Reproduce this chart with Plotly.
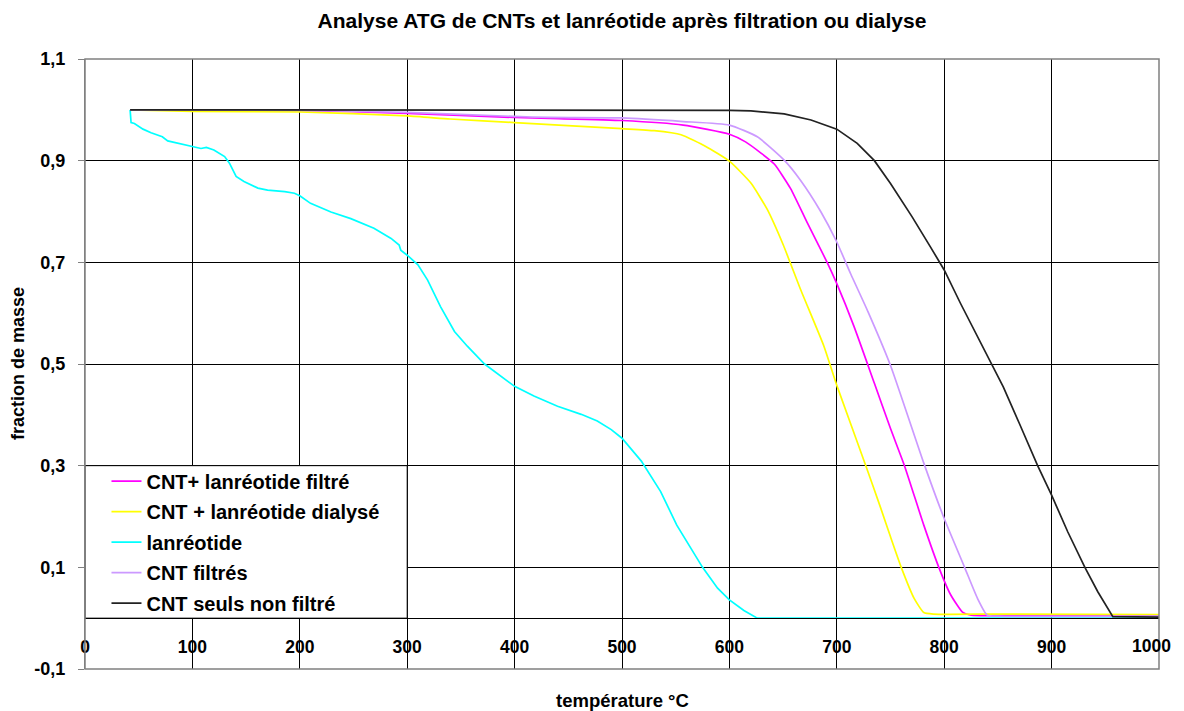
import plotly.graph_objects as go

# ---- data ----
names = ["CNT+ lanréotide filtré", "CNT + lanréotide dialysé", "lanréotide",
         "CNT filtrés", "CNT seuls non filtré"]
colors = ["#FF00FF", "#FFFF00", "#00FFFF", "#CC99FF", "#222222"]

magenta_x = [42, 100, 200, 300, 400, 433, 500, 557, 600, 615, 630, 642, 657, 672, 691, 700, 716,
             735, 750, 763, 781, 795, 806, 817, 825, 850, 1000]
magenta_y = [1.000, 1.000, 0.999, 0.993, 0.985, 0.983, 0.979, 0.970, 0.952, 0.937, 0.914, 0.893,
             0.845, 0.780, 0.700, 0.658, 0.574, 0.462, 0.373, 0.300, 0.183, 0.100, 0.046, 0.012,
             0.006, 0.005, 0.005]

yellow_x = [42, 100, 200, 300, 340, 400, 500, 530, 555, 578, 600, 620, 635, 650, 666, 688, 700,
            727, 741, 750, 760, 772, 781, 790, 850, 1000]
yellow_y = [1.000, 0.997, 0.996, 0.988, 0.982, 0.975, 0.963, 0.959, 0.951, 0.928, 0.899, 0.856,
            0.805, 0.735, 0.648, 0.535, 0.458, 0.300, 0.216, 0.160, 0.100, 0.039, 0.011, 0.008,
            0.008, 0.007]

cyan_x = [42, 42.9, 46, 54, 61.5, 72, 77, 89, 100, 108, 113, 120, 130, 134.5, 140.7, 148, 161,
          170, 186, 195, 200, 210, 229, 247.5, 269, 285, 292.5, 294, 300, 310, 319, 331, 344,
          356, 372, 387, 400, 418, 440, 462, 477, 490, 500, 518, 536, 551, 564, 575, 589, 600,
          613.5, 626, 1000]
cyan_y = [1.000, 0.975, 0.973, 0.962, 0.955, 0.947, 0.939, 0.933, 0.928, 0.924, 0.926, 0.921,
          0.908, 0.895, 0.869, 0.859, 0.846, 0.842, 0.839, 0.836, 0.831, 0.816, 0.799, 0.786,
          0.767, 0.747, 0.734, 0.724, 0.714, 0.695, 0.665, 0.613, 0.564, 0.535, 0.500, 0.476,
          0.456, 0.437, 0.417, 0.401, 0.388, 0.371, 0.354, 0.309, 0.249, 0.183, 0.137, 0.100,
          0.059, 0.036, 0.015, 0.000, 0.000]

lavender_x = [42, 100, 200, 300, 400, 433, 500, 557, 600, 626, 651, 666, 685, 700, 713, 729,
              750, 781, 800, 819, 831, 840, 850, 1000]
lavender_y = [1.000, 1.000, 0.999, 0.995, 0.987, 0.985, 0.984, 0.977, 0.970, 0.947, 0.901, 0.862,
              0.800, 0.740, 0.677, 0.603, 0.497, 0.305, 0.196, 0.100, 0.039, 0.006, 0.004, 0.004]

black_x = [42, 100, 200, 300, 400, 500, 560, 580, 600, 620, 651, 676, 700, 719, 735, 750, 770,
           787, 800, 815, 831, 844, 855, 870, 887, 900, 915, 931, 943, 957, 1000]
black_y = [1.000, 1.000, 1.000, 1.000, 1.000, 1.000, 1.000, 1.000, 0.999, 0.998, 0.992, 0.980,
           0.962, 0.934, 0.900, 0.855, 0.790, 0.731, 0.685, 0.620, 0.555, 0.502, 0.455, 0.383,
           0.300, 0.242, 0.170, 0.100, 0.052, 0.003, 0.002]

xs = [magenta_x, yellow_x, cyan_x, lavender_x, black_x]
ys = [magenta_y, yellow_y, cyan_y, lavender_y, black_y]
shapes = ["spline", "spline", "linear", "spline", "linear"]

y_tickvals = [-0.1, 0.1, 0.3, 0.5, 0.7, 0.9, 1.1]
y_ticktext = ["-0,1", "0,1", "0,3", "0,5", "0,7", "0,9", "1,1"]
x_tickvals = [0, 100, 200, 300, 400, 500, 600, 700, 800, 900, 1000]
x_ticktext = ["0", "100", "200", "300", "400", "500", "600", "700", "800", "900", ""]
x_last_label = "1000"   # drawn separately so that it stays inside the page

title = "Analyse ATG de CNTs et lanréotide après filtration ou dialyse"
xtitle = "température °C"
ytitle = "fraction de masse"

FONT = "Liberation Sans, Arial, sans-serif"

W, H = 1168, 703          # page body has an 8px margin
ML, MR, MT, MB = 77, 17, 51, 42
PH = H - MT - MB

fig = go.Figure()
for i, (x, y) in enumerate(zip(xs, ys)):
    fig.add_trace(go.Scatter(x=x, y=y, mode="lines", name=names[i],
                             line=dict(color=colors[i], width=1.7, shape=shapes[i],
                                       smoothing=0.5),
                             legendgroup=str(i)))

fig.update_layout(
    width=W, height=H,
    margin=dict(l=ML, r=MR, t=MT, b=MB),
    paper_bgcolor="white", plot_bgcolor="white",
    font=dict(family=FONT, size=18, color="black", weight="bold"),
    title=dict(text=title, x=0.5, xref="paper", y=1 - 13 / H, yanchor="middle",
               xanchor="center", font=dict(family=FONT, size=21, weight="bold")),
    showlegend=True,
    legend=dict(x=0.02, y=(0.3 + 0.1) / 1.2 + 4 / PH, xanchor="left", yanchor="top",
                bgcolor="rgba(0,0,0,0)", borderwidth=0, tracegroupgap=1.5,
                font=dict(family=FONT, size=20, weight="bold")),
    xaxis=dict(range=[0, 1000], tickvals=x_tickvals, ticktext=x_ticktext, showgrid=True,
               gridcolor="#000000", gridwidth=1, zeroline=False, anchor="free",
               position=0.1 / 1.2, showline=True, linecolor="#000000", linewidth=1,
               ticks="", ticklabelstandoff=13,
               tickfont=dict(family=FONT, size=17.5, weight="bold")),
    yaxis=dict(range=[-0.1, 1.1], tickvals=y_tickvals, ticktext=y_ticktext, showgrid=True,
               gridcolor="#000000", gridwidth=1, zeroline=False, showline=True,
               linecolor="#808080", ticks="outside", ticklen=6, tickcolor="#808080",
               ticklabelstandoff=9,
               tickfont=dict(family=FONT, size=18, weight="bold")),
)

# legend box (covers the grid as in the original)
fig.add_shape(type="rect", xref="x", yref="y", x0=0, x1=300, y0=0, y1=0.3,
              fillcolor="white", line=dict(color="#000000", width=1), layer="between")
# plot-area frame
fig.add_shape(type="rect", xref="paper", yref="paper", x0=0, x1=1, y0=0, y1=1,
              line=dict(color="#808080", width=1.5), layer="above")

fig.add_annotation(text=x_last_label, xref="x", yref="paper", x=x_tickvals[-1],
                   y=23 / PH, showarrow=False, xanchor="right", yanchor="middle",
                   xshift=14, font=dict(family=FONT, size=17.5, weight="bold"))
fig.add_annotation(text=xtitle, xref="paper", yref="paper", x=0.5, y=-31 / PH,
                   showarrow=False, xanchor="center", yanchor="middle",
                   font=dict(family=FONT, size=18.5, weight="bold"))
fig.add_annotation(text=ytitle, xref="paper", yref="paper", x=-67 / (W - ML - MR), y=0.5,
                   showarrow=False, xanchor="center", yanchor="middle", textangle=-90,
                   font=dict(family=FONT, size=18, weight="bold"))

fig.write_html("out.html")
